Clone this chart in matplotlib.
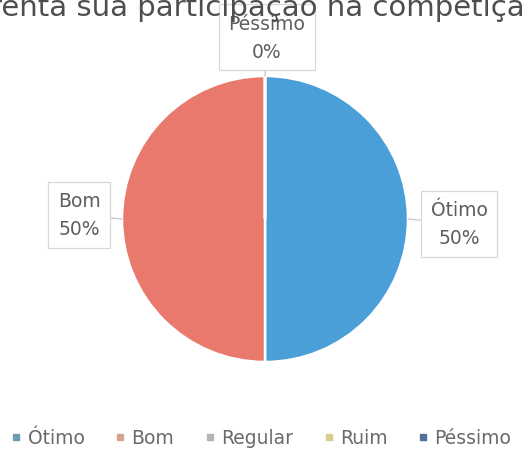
import matplotlib
matplotlib.use("Agg")
import matplotlib.pyplot as plt
import numpy as np
from matplotlib.lines import Line2D

categories = ["Ótimo", "Bom", "Regular", "Ruim", "Péssimo"]
values = [50, 50, 0, 0, 0]
colors = ["#4a9fd8", "#e9786d", "#a5a5a5", "#f2c94c", "#3f6fa3"]
legend_colors = ["#6c9cb4", "#d4a48e", "#b4b4b4", "#d8cc8a", "#4f7298"]
title = "renta sua participação na competição"

W, H = 522, 456
plt.rcParams['font.family'] = ['DejaVu Sans']
fig = plt.figure(figsize=(W / 100, H / 100), dpi=100)

cx, cy, r = 265, 220, 143
ax = fig.add_axes([(cx - r) / W, (H - cy - r) / H, 2 * r / W, 2 * r / H])
wedges, _ = ax.pie(values, colors=colors, startangle=90, counterclock=False,
                   radius=1, wedgeprops=dict(edgecolor="white", linewidth=1.8))
ax.set_xlim(-1, 1)
ax.set_ylim(-1, 1)
ax.axis("off")

total = sum(values)
label_pos = {"Ótimo": (459, 225), "Bom": (79, 216), "Péssimo": (267, 38)}
for w, cat, v in zip(wedges, categories, values):
    if cat not in label_pos:
        continue
    ang = np.deg2rad((w.theta1 + w.theta2) / 2)
    px, py = label_pos[cat]
    ex, ey = np.cos(ang), np.sin(ang)
    ax.annotate(f"{cat}\n{v / total * 100:.0f}%", xy=(ex, ey), xycoords="data",
                xytext=(px / W, 1 - py / H), textcoords="figure fraction",
                ha="center", va="center", fontsize=13.5, color="#5e5e5e",
                linespacing=1.6, zorder=1,
                bbox=dict(boxstyle="square,pad=0.5", fc="white", ec="#d8d8d8", lw=0.9),
                arrowprops=dict(arrowstyle="-", color="#c8c8c8", lw=0.9,
                                shrinkA=0, shrinkB=0))

fig.text(-10 / W, 1 - 16 / H, title, fontsize=21, color="#4e4e4e",
         ha="left", va="baseline", zorder=5)

handles = [Line2D([0], [0], marker="s", linestyle="none", markersize=5,
                  markerfacecolor=c, markeredgecolor=c) for c in legend_colors]
fig.legend(handles, categories, loc="center", bbox_to_anchor=(0.5, 1 - 439 / H),
           ncol=5, frameon=False, fontsize=13.5, labelcolor="#6a6a6a",
           handletextpad=0.3, columnspacing=1.6, handlelength=0.6,
           borderaxespad=0, borderpad=0)

fig.savefig("out.png", dpi=100, facecolor="white")
